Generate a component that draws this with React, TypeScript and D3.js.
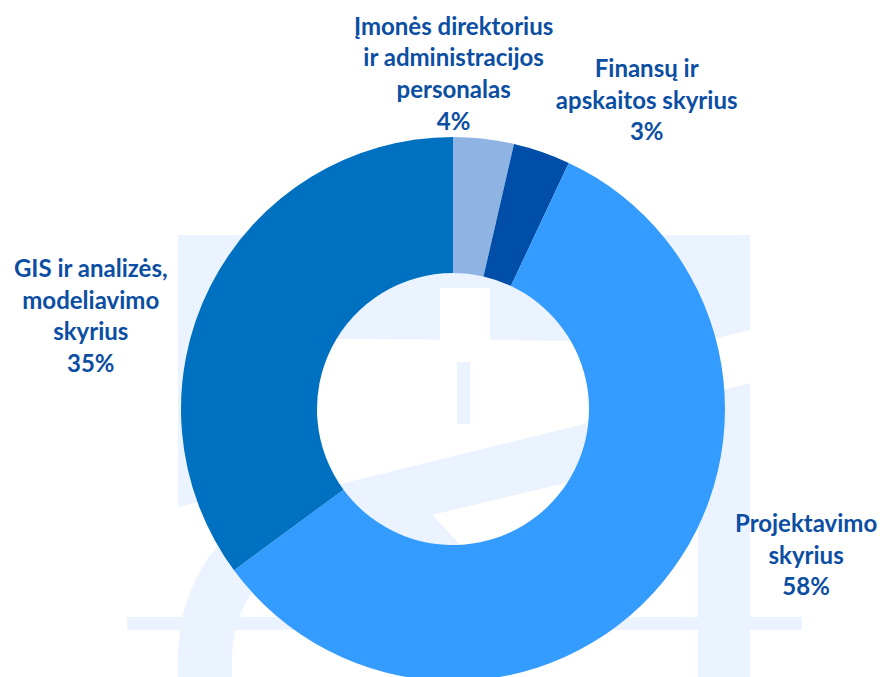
import { useEffect, useRef } from 'react';
import * as d3 from 'd3';

// departments, clockwise from 12 o'clock
const categories = [
  ['Įmonės direktorius', 'ir administracijos', 'personalas'],
  ['Finansų ir', 'apskaitos skyrius'],
  ['Projektavimo', 'skyrius'],
  ['GIS ir analizės,', 'modeliavimo', 'skyrius'],
];
const shares = [0.036, 0.034, 0.579, 0.351];
const colors = ['#8FB4E3', '#004EA8', '#359CFF', '#0070C0'];
// hand placed label offsets (Excel style), relative to the label ring
const labelNudge = [
  [-40, 23],
  [76, 32],
  [75, -82],
  [-41, 70],
];

const W = 883;
const H = 677;

const App = () => {
  const ref = useRef(null);

  useEffect(() => {
    const svg = d3.select(ref.current);
    svg.selectAll('*').remove();

    const cx = 453;
    const cy = 409;
    const outer = 272;
    const inner = 136;
    const wm = '#EAF3FF';

    // faint logo watermark behind the chart
    const bg = svg.append('g');
    bg.append('path')
      .attr('d', 'M178,235 L750,235 L750,330 L700,342 L250,338 L250,490 L178,507 Z')
      .attr('fill', wm);
    bg.append('rect').attr('x', 440).attr('y', 288).attr('width', 50).attr('height', 52).attr('fill', '#fff');
    bg.append('rect').attr('x', 457).attr('y', 362).attr('width', 13).attr('height', 62).attr('fill', wm);
    bg.append('path')
      .attr('d', 'M300,494 L750,383 L750,439 L432,515 L300,547 Z')
      .attr('fill', wm);
    bg.append('path')
      .attr('d', 'M300,547 L432,515 L492,578 L300,590 Z')
      .attr('fill', wm);
    bg.append('rect').attr('x', 698).attr('y', 390).attr('width', 52).attr('height', 300).attr('fill', wm);
    bg.append('rect').attr('x', 127).attr('y', 617).attr('width', 675).attr('height', 13).attr('fill', wm);
    bg.append('path')
      .attr('d', 'M178,690 L178,660 C178,610 195,560 245,518 L280,560 C248,590 232,620 232,660 L232,690 Z')
      .attr('fill', wm);

    const pie = d3.pie().value((d) => d).sort(null);
    const arc = d3.arc().innerRadius(inner).outerRadius(outer);
    const labelArc = d3.arc().innerRadius(360).outerRadius(360);
    const pct = d3.format('.0%');

    const g = svg.append('g').attr('transform', `translate(${cx},${cy})`);
    const pieData = pie(shares);

    g.selectAll('path')
      .data(pieData)
      .enter()
      .append('path')
      .attr('d', arc)
      .attr('fill', (_, i) => colors[i]);

    const lh = 31.7;
    const labels = g.selectAll('g.lbl')
      .data(pieData)
      .enter()
      .append('g')
      .attr('class', 'lbl')
      .attr('transform', (d, i) => {
        const [x, y] = labelArc.centroid(d);
        return `translate(${x + labelNudge[i][0]},${y + labelNudge[i][1]})`;
      });

    labels.each(function (d, i) {
      const lines = [...categories[i], pct(d.data)];
      const n = lines.length;
      const t = d3.select(this)
        .append('text')
        .attr('text-anchor', 'middle')
        .style('font-family', 'Lato, "Open Sans", sans-serif')
        .style('font-weight', 'bold')
        .style('font-size', '24px')
        .attr('fill', '#0B4EA2');
      lines.forEach((s, k) => {
        t.append('tspan')
          .attr('x', 0)
          .attr('y', 8 + (k - (n - 1) / 2) * lh)
          .text(s);
      });
    });
  }, []);

  return (
    <svg
      ref={ref}
      width={W}
      height={H}
      style={{ position: 'absolute', left: 0, top: 0, background: '#fff' }}
    ></svg>
  );
};

export default App;
